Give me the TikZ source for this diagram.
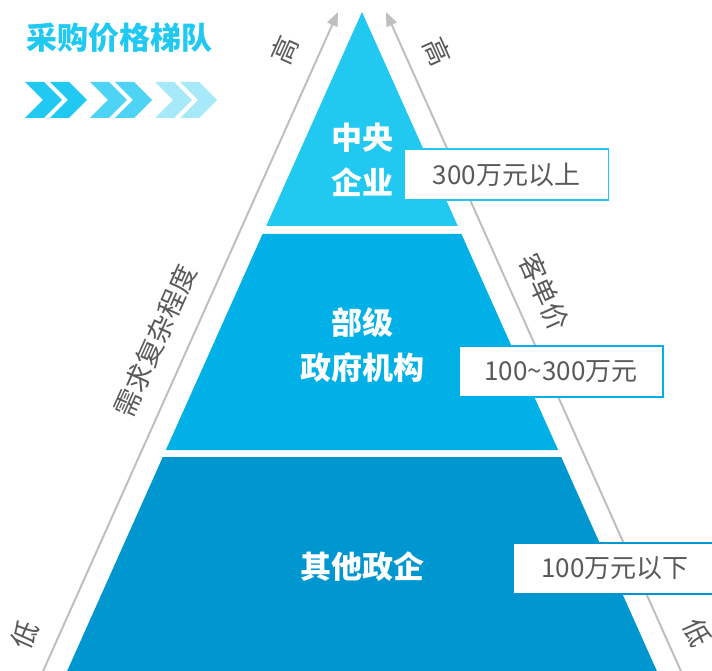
\documentclass[tikz,border=0pt]{standalone}
\usepackage{fontspec}
\setmainfont{Noto Sans CJK SC}
\usetikzlibrary{arrows.meta}

\definecolor{tierA}{RGB}{33,200,240}
\definecolor{tierB}{RGB}{0,176,230}
\definecolor{tierC}{RGB}{0,150,208}
\definecolor{chevA}{RGB}{31,201,241}
\definecolor{chevB}{RGB}{77,212,244}
\definecolor{chevC}{RGB}{166,233,249}
\definecolor{axisgray}{RGB}{191,191,191}
\definecolor{textgray}{RGB}{89,89,89}

\tikzset{
  tiertext/.style={text=white, font=\bfseries\fontsize{31}{45}\selectfont, align=center},
  pricebox/.style={draw=#1, line width=1.5pt, fill=white, minimum width=204pt,
    minimum height=51pt, inner sep=0pt, text=textgray, font=\fontsize{26}{30}\selectfont},
  axisline/.style={draw=axisgray, line width=2pt, -{Triangle[length=14pt,width=11pt]}},
  axistext/.style={text=textgray, font=\fontsize{27}{30}\selectfont, inner sep=0pt},
}

\begin{document}
\begin{tikzpicture}[x=1pt, y=-1pt]

    \useasboundingbox (0,0) rectangle (712,671);
    \clip (0,0) rectangle (712,671);

    % Title and chevrons
    \node [text=chevA, font=\bfseries\fontsize{31}{34}\selectfont] (title) at (119,38) {采购价格梯队};
    \foreach \x/\col in {25/chevA, 90/chevB, 155/chevC} {
        \foreach \dx in {0,25} {
            \fill [\col] (\x+\dx,82) -- ++(19,0) -- ++(18,18) -- ++(-18,18) -- ++(-19,0) -- ++(18,-18) -- cycle;
        }
    }

    % Pyramid tiers
    \fill [tierA] (362,12) -- (457.8,226) -- (266.2,226) -- cycle;
    \fill [tierB] (262.6,234) -- (461.4,234) -- (558.1,450) -- (165.9,450) -- cycle;
    \fill [tierC] (162.8,457) -- (561.2,457) -- (660,678) -- (64,678) -- cycle;

    \node [tiertext] (central) at (362,160) {中央\\企业};
    \node [tiertext] (ministry) at (362,345) {部级\\政府机构};
    \node [tiertext] (others) at (362,567) {其他政企};

    % Axes on both sides
    \coordinate (lbot) at (40,678);
    \coordinate (ltop) at (338,12);
    \coordinate (rbot) at (684,678);
    \coordinate (rtop) at (386,12);
    \draw [axisline] (lbot) -- (ltop);
    \draw [axisline] (rbot) -- (rtop);

    \node [axistext, rotate=65.9] (lhigh) at (285,50) {高};
    \node [axistext, rotate=65.9] (demand) at (155,341) {需求复杂程度};
    \node [axistext, rotate=65.9] (llow) at (25,635) {低};
    \node [axistext, rotate=-65.9] (rhigh) at (437,52) {高};
    \node [axistext, rotate=-65.9] (price) at (544,292) {客单价};
    \node [axistext, rotate=-65.9] (rlow) at (697,633) {低};

    % Price boxes
    \node [pricebox=tierA] (boxA) at (506.5,174.5) {300万元以上};
    \node [pricebox=tierB] (boxB) at (561,371.5) {100\textasciitilde300万元};
    \node [pricebox=tierC] (boxC) at (615,568.5) {100万元以下};

\end{tikzpicture}
\end{document}
